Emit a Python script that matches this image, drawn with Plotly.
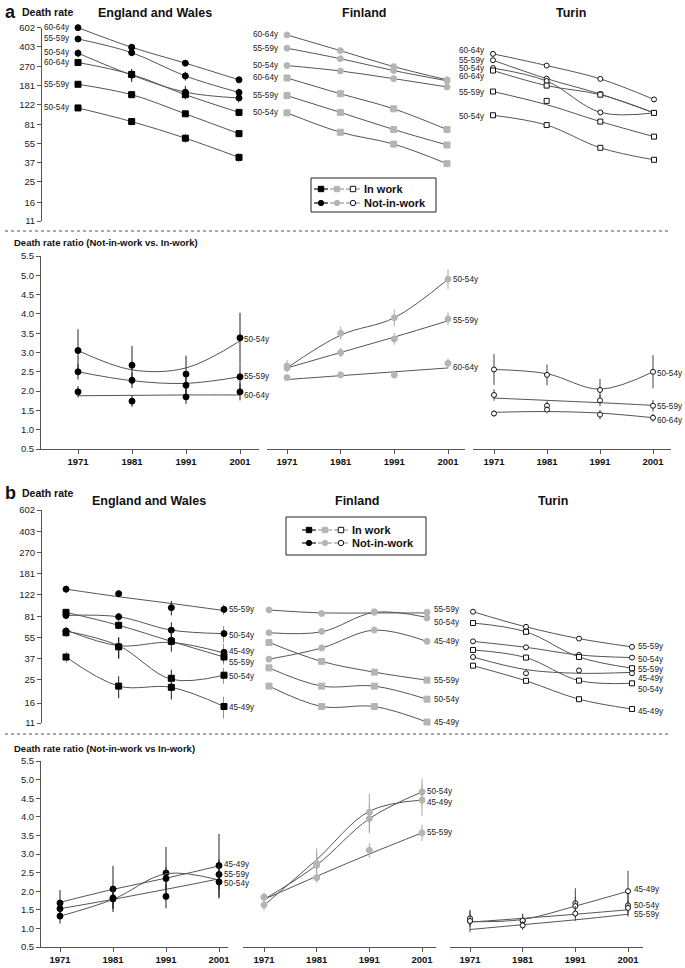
import math
import plotly.graph_objects as go

W, H = 685, 968
YEARS = [1971, 1981, 1991, 2001]
YEAR_LABELS = ["1971", "1981", "1991", "2001"]
RATE_TICKS = [11, 16, 25, 37, 55, 81, 122, 181, 270, 403, 602]
RATIO_TICKS = [0.5, 1.0, 1.5, 2.0, 2.5, 3.0, 3.5, 4.0, 4.5, 5.0, 5.5]

# ---------------- panel a: death rates, ages 50-64 ----------------
A_EW_NIW_6064 = [600, 400, 288, 204]
A_EW_NIW_5559 = [475, 358, 221, 157]
A_EW_NIW_5054 = [354, 225, 158, 140]
A_EW_IW_6064 = [292, 228, 150, 104]
A_EW_IW_5559 = [186, 150, 101, 67]
A_EW_IW_5054 = [114, 86, 61, 41]
A_EW_NIW_6064_ERR = [20, 20, 15, 12]
A_EW_NIW_5559_ERR = [30, 25, 20, 14]
A_EW_NIW_5054_ERR = [30, 30, 22, 14]
A_EW_IW_6064_ERR = [10, 25, 10, 8]
A_EW_IW_5559_ERR = [6, 6, 6, 5]
A_EW_IW_5054_ERR = [4, 4, 5, 4]

A_FI_NIW_6064 = [516, 373, 268, 204]
A_FI_NIW_5559 = [392, 316, 247, 200]
A_FI_NIW_5054 = [274, 245, 209, 176]
A_FI_IW_6064 = [212, 153, 112, 73]
A_FI_IW_5559 = [147, 104, 73, 53]
A_FI_IW_5054 = [103, 69, 54, 36]

A_TU_NIW_6064 = [349, 274, 208, 136]
A_TU_NIW_5559 = [306, 209, 152, 103]
A_TU_NIW_5054 = [260, 199, 104, 103]
A_TU_IW_6064 = [247, 181, 150, 103]
A_TU_IW_5559 = [160, 132, 86, 63]
A_TU_IW_5559_FIT = [160, 122, 86, 63]
A_TU_IW_5054 = [98, 80, 50, 39]

A_LABELS = ["60-64y", "55-59y", "50-54y", "60-64y", "55-59y", "50-54y"]

# panel a: ratios
R_A_EW_5054 = [3.05, 2.67, 2.44, 3.38]
R_A_EW_5054_FIT = [3.05, 2.55, 2.6, 3.3]
R_A_EW_5054_ERR = [0.55, 0.5, 0.48, 0.65]
R_A_EW_5559 = [2.5, 2.28, 2.15, 2.37]
R_A_EW_5559_FIT = [2.5, 2.27, 2.2, 2.37]
R_A_EW_5559_ERR = [0.2, 0.2, 0.22, 0.35]
R_A_EW_6064 = [1.98, 1.74, 1.85, 1.98]
R_A_EW_6064_FIT = [1.88, 1.89, 1.9, 1.9]
R_A_EW_6064_ERR = [0.15, 0.15, 0.18, 0.22]

R_A_FI_5054 = [2.65, 3.5, 3.9, 4.9]
R_A_FI_5054_FIT = [2.6, 3.45, 3.9, 4.9]
R_A_FI_5054_ERR = [0.15, 0.17, 0.22, 0.25]
R_A_FI_5559 = [2.6, 3.0, 3.35, 3.87]
R_A_FI_5559_FIT = [2.6, 3.0, 3.4, 3.82]
R_A_FI_5559_ERR = [0.1, 0.12, 0.15, 0.17]
R_A_FI_6064 = [2.35, 2.42, 2.42, 2.72]
R_A_FI_6064_FIT = [2.3, 2.4, 2.5, 2.6]
R_A_FI_6064_ERR = [0.06, 0.07, 0.1, 0.13]

R_A_TU_5054 = [2.56, 2.42, 2.03, 2.5]
R_A_TU_5054_FIT = [2.56, 2.45, 2.05, 2.5]
R_A_TU_5054_ERR = [0.4, 0.27, 0.28, 0.43]
R_A_TU_5559 = [1.9, 1.62, 1.76, 1.62]
R_A_TU_5559_FIT = [1.82, 1.76, 1.7, 1.63]
R_A_TU_5559_ERR = [0.15, 0.12, 0.15, 0.15]
R_A_TU_6064 = [1.42, 1.52, 1.39, 1.31]
R_A_TU_6064_FIT = [1.45, 1.47, 1.43, 1.31]
R_A_TU_6064_ERR = [0.08, 0.08, 0.12, 0.1]

R_A_LABELS = ["50-54y", "55-59y", "60-64y"]

# ---------------- panel b: death rates, ages 45-59 ----------------
B_EW_NIW_5559 = [136, 125, 96, 93]
B_EW_NIW_5559_FIT = [136, 118, 104, 91]
B_EW_NIW_5054 = [83, 81, 63, 59]
B_EW_NIW_4549 = [62, 46, 52, 41.5]
B_EW_NIW_4549_FIT = [63, 47, 50, 41]
B_EW_IW_5559 = [88, 69, 51, 38]
B_EW_IW_5054 = [60, 46, 25.5, 27]
B_EW_IW_5054_FIT = [62, 47, 25, 27]
B_EW_IW_4549 = [38, 22, 21.5, 15]
B_EW_NIW_5559_ERR = [10, 8, 13, 9]
B_EW_NIW_5054_ERR = [6, 6, 10, 9]
B_EW_NIW_4549_ERR = [5, 9, 10, 7]
B_EW_IW_5559_ERR = [6, 5, 4, 5]
B_EW_IW_5054_ERR = [5, 9, 4.5, 4]
B_EW_IW_4549_ERR = [4, 4.5, 4.4, 3]

B_FI_NIW_5559 = [92, 86, 88, 88]
B_FI_NIW_5559_FIT = [92, 87, 87, 87]
B_FI_NIW_5054 = [60, 61.5, 89, 79]
B_FI_NIW_5054_FIT = [60, 61, 88, 80]
B_FI_NIW_4549 = [36.5, 45, 63, 51]
B_FI_IW_5559 = [50, 35, 28.6, 24.6]
B_FI_IW_5054 = [31, 22, 22, 17.2]
B_FI_IW_4549 = [22, 15, 15, 11.2]

B_TU_NIW_5559 = [89, 67, 53.7, 46]
B_TU_NIW_5054 = [51, 45.6, 39.5, 37.6]
B_TU_NIW_4549 = [38, 28, 29.5, 28]
B_TU_NIW_4549_FIT = [38, 30, 28, 28.5]
B_TU_IW_5559 = [72, 61, 38, 30.8]
B_TU_IW_5054 = [43.4, 37.6, 24.4, 23.2]
B_TU_IW_4549 = [32.3, 24.3, 17.2, 14.3]

B_LABELS = ["55-59y", "50-54y", "45-49y", "55-59y", "50-54y", "45-49y"]

# panel b: ratios
R_B_EW_4549 = [1.68, 2.06, 2.49, 2.69]
R_B_EW_4549_FIT = [1.7, 2.05, 2.35, 2.68]
R_B_EW_4549_ERR = [0.35, 0.62, 0.7, 0.85]
R_B_EW_5559 = [1.53, 1.79, 2.34, 2.45]
R_B_EW_5559_FIT = [1.53, 1.78, 2.05, 2.33]
R_B_EW_5559_ERR = [0.2, 0.25, 0.3, 0.4]
R_B_EW_5054 = [1.33, 1.82, 1.86, 2.25]
R_B_EW_5054_FIT = [1.33, 1.78, 2.47, 2.3]
R_B_EW_5054_ERR = [0.2, 0.3, 0.32, 0.45]

R_B_FI_4549 = [1.63, 2.75, 4.12, 4.45]
R_B_FI_4549_FIT = [1.62, 2.85, 4.15, 4.45]
R_B_FI_4549_ERR = [0.15, 0.4, 0.5, 0.42]
R_B_FI_5054 = [1.84, 2.7, 3.95, 4.67]
R_B_FI_5054_FIT = [1.78, 2.7, 3.95, 4.67]
R_B_FI_5054_ERR = [0.12, 0.35, 0.4, 0.35]
R_B_FI_5559 = [1.84, 2.36, 3.1, 3.57]
R_B_FI_5559_FIT = [1.78, 2.4, 3.0, 3.57]
R_B_FI_5559_ERR = [0.1, 0.13, 0.2, 0.22]

R_B_TU_4549 = [1.2, 1.2, 1.68, 2.0]
R_B_TU_4549_FIT = [1.18, 1.24, 1.6, 2.0]
R_B_TU_4549_ERR = [0.3, 0.2, 0.4, 0.55]
R_B_TU_5054 = [1.27, 1.21, 1.6, 1.62]
R_B_TU_5054_FIT = [1.17, 1.27, 1.38, 1.5]
R_B_TU_5054_ERR = [0.2, 0.15, 0.25, 0.3]
R_B_TU_5559 = [1.2, 1.08, 1.4, 1.55]
R_B_TU_5559_FIT = [0.97, 1.1, 1.23, 1.38]
R_B_TU_5559_ERR = [0.15, 0.12, 0.2, 0.2]

R_B_LABELS = ["45-49y", "55-59y", "50-54y"]
R_B_LABELS_FI = ["50-54y", "45-49y", "55-59y"]
R_B_LABELS_TU = ["45-49y", "50-54y", "55-59y"]

# ---------------- styling ----------------
FONT = "Liberation Sans, Arial, Helvetica, sans-serif"
LINE = "#555555"
AXC = "#555555"
BLACK = "#000000"
GRAY = "#b5b5b5"
WHITE = "#ffffff"
STYLE = {
    "EW": dict(fill=BLACK, edge=BLACK, bar="#222222"),
    "FI": dict(fill=GRAY, edge=GRAY, bar="#a8a8a8"),
    "TU": dict(fill=WHITE, edge="#111111", bar="#444444"),
}


def fx(x):
    return x / W


def fy(y):
    return 1 - y / H


fig = go.Figure()
layout = {}
annotations = []
shapes = []


def axname(n):
    return ("x", "y") if n == 1 else (f"x{n}", f"y{n}")


def setup_panel(n, L, R, p1, p2, top, bottom, kind, show_y, show_x, ypos=None):
    s = (p2 - p1) / 30.0
    xr = [1971 - (p1 - L) / s, 2001 + (R - p2) / s]
    xk = "xaxis" if n == 1 else f"xaxis{n}"
    yk = "yaxis" if n == 1 else f"yaxis{n}"
    xa, ya = axname(n)
    xd = dict(domain=[fx(L), fx(R)], range=xr, anchor=ya, showgrid=False,
              zeroline=False, fixedrange=True, automargin=False)
    if show_x:
        xd.update(showline=True, linecolor=AXC, linewidth=1, ticks="outside",
                  ticklen=4, tickcolor=AXC, tickvals=YEARS,
                  ticktext=[f"<b>{t}</b>" for t in YEAR_LABELS],
                  tickfont=dict(size=9.5, color="#111", family=FONT))
    else:
        xd.update(visible=False)
    yd = dict(domain=[fy(bottom), fy(top)], showgrid=False, zeroline=False,
              fixedrange=True, automargin=False)
    if kind == "rate":
        yd.update(type="log", range=[math.log10(11), math.log10(602)])
        tv, tt = RATE_TICKS, [str(v) for v in RATE_TICKS]
    else:
        yd.update(range=[0.5, 5.5])
        tv, tt = RATIO_TICKS, [f"{v:.1f}" for v in RATIO_TICKS]
    if show_y:
        yd.update(anchor="free", position=fx(ypos), showline=True, linecolor=AXC,
                  linewidth=1, ticks="outside", ticklen=4, tickcolor=AXC,
                  tickvals=tv, ticktext=tt,
                  tickfont=dict(size=9.5, color="#222", family=FONT))
    else:
        yd.update(visible=False, anchor=xa)
    layout[xk] = xd
    layout[yk] = yd


def add_series(n, country, vals, fit=None, err=None, symbol="circle", size=6):
    xa, ya = axname(n)
    st = STYLE[country]
    line_vals = fit if fit is not None else vals
    fig.add_trace(go.Scatter(x=YEARS, y=line_vals, mode="lines",
                             line=dict(color=LINE, width=1, shape="spline", smoothing=1.0),
                             xaxis=xa, yaxis=ya, cliponaxis=False, hoverinfo="skip"))
    ed = None
    if err is not None:
        ed = dict(type="data", array=err, visible=True, color=st["bar"],
                  thickness=1, width=0)
    fig.add_trace(go.Scatter(x=YEARS, y=vals, mode="markers",
                             marker=dict(symbol=symbol, size=size, color=st["fill"],
                                         line=dict(color=st["edge"], width=1)),
                             error_y=ed, xaxis=xa, yaxis=ya, cliponaxis=False))


def add_label(n, text, year, val, side, xshift, yshift=0, log=False):
    xa, ya = axname(n)
    annotations.append(dict(
        x=year, y=math.log10(val) if log else val, xref=xa, yref=ya, text=text,
        showarrow=False, xanchor="right" if side == "left" else "left",
        yanchor="middle", xshift=xshift, yshift=yshift, borderpad=0,
        font=dict(size=8.2, color="#222", family=FONT)))


def text(x, y, t, size, anchor="left", bold=True):
    annotations.append(dict(x=fx(x), y=fy(y), xref="paper", yref="paper",
                            text=f"<b>{t}</b>" if bold else t, showarrow=False,
                            xanchor=anchor, yanchor="middle",
                            font=dict(size=size, color="#111", family=FONT)))


# ---------------- panel geometry ----------------
setup_panel(1, 78, 239, 78, 239, 27.5, 221, "rate", True, False, ypos=41)
setup_panel(2, 287, 447, 287, 447, 27.5, 221, "rate", False, False)
setup_panel(3, 493, 654, 493, 654, 27.5, 221, "rate", False, False)
setup_panel(4, 40, 259, 78, 240, 256, 449, "ratio", True, True, ypos=40)
setup_panel(5, 267, 465, 287, 448, 256, 449, "ratio", False, True)
setup_panel(6, 473, 671, 494, 653, 256, 449, "ratio", False, True)
setup_panel(7, 66, 224, 66, 224, 510, 723, "rate", True, False, ypos=41)
setup_panel(8, 269, 427, 269, 427, 510, 723, "rate", False, False)
setup_panel(9, 473, 632, 473, 632, 510, 723, "rate", False, False)
setup_panel(10, 40, 228, 60, 219, 761, 947, "ratio", True, True, ypos=40)
setup_panel(11, 243, 436, 264, 422, 761, 947, "ratio", False, True)
setup_panel(12, 450, 643, 470, 628, 761, 947, "ratio", False, True)

# ---------------- panel a: death rates ----------------
ew_a = [(A_EW_NIW_6064, A_EW_NIW_6064_ERR, "circle"), (A_EW_NIW_5559, A_EW_NIW_5559_ERR, "circle"),
        (A_EW_NIW_5054, A_EW_NIW_5054_ERR, "circle"), (A_EW_IW_6064, A_EW_IW_6064_ERR, "square"),
        (A_EW_IW_5559, A_EW_IW_5559_ERR, "square"), (A_EW_IW_5054, A_EW_IW_5054_ERR, "square")]
for vals, err, sym in ew_a:
    add_series(1, "EW", vals, err=err, symbol=sym, size=6)
for (vals, _, _), lab, ys in zip(ew_a, A_LABELS, [0, 0, 1, 0, 0, 0]):
    add_label(1, lab, 1971, vals[0], "left", -7, ys, log=True)

fi_a = [(A_FI_NIW_6064, "circle"), (A_FI_NIW_5559, "circle"), (A_FI_NIW_5054, "circle"),
        (A_FI_IW_6064, "square"), (A_FI_IW_5559, "square"), (A_FI_IW_5054, "square")]
for vals, sym in fi_a:
    add_series(2, "FI", vals, symbol=sym, size=6)
for (vals, _), lab in zip(fi_a, A_LABELS):
    add_label(2, lab, 1971, vals[0], "left", -7, 0, log=True)

tu_a = [(A_TU_NIW_6064, None, "circle"), (A_TU_NIW_5559, None, "circle"),
        (A_TU_NIW_5054, None, "circle"), (A_TU_IW_6064, None, "square"),
        (A_TU_IW_5559, A_TU_IW_5559_FIT, "square"), (A_TU_IW_5054, None, "square")]
for vals, fit, sym in tu_a:
    add_series(3, "TU", vals, fit=fit, symbol=sym, size=5)
for (vals, _, _), lab, ys in zip(tu_a, A_LABELS, [3, 0, 0, -6, -1, -1]):
    add_label(3, lab, 1971, vals[0], "left", -7, ys, log=True)

# ---------------- panel a: ratios ----------------
ra = {
    4: ("EW", [(R_A_EW_5054, R_A_EW_5054_FIT, R_A_EW_5054_ERR),
               (R_A_EW_5559, R_A_EW_5559_FIT, R_A_EW_5559_ERR),
               (R_A_EW_6064, R_A_EW_6064_FIT, R_A_EW_6064_ERR)], 3, [-2, 0, -4]),
    5: ("FI", [(R_A_FI_5054, R_A_FI_5054_FIT, R_A_FI_5054_ERR),
               (R_A_FI_5559, R_A_FI_5559_FIT, R_A_FI_5559_ERR),
               (R_A_FI_6064, R_A_FI_6064_FIT, R_A_FI_6064_ERR)], 4, [0, -2, -4]),
    6: ("TU", [(R_A_TU_5054, R_A_TU_5054_FIT, R_A_TU_5054_ERR),
               (R_A_TU_5559, R_A_TU_5559_FIT, R_A_TU_5559_ERR),
               (R_A_TU_6064, R_A_TU_6064_FIT, R_A_TU_6064_ERR)], 3, [-2, -1, -3]),
}
for n, (c, lst, xs, yss) in ra.items():
    for vals, fit, err in lst:
        add_series(n, c, vals, fit=fit, err=err, symbol="circle", size=6 if c != "TU" else 5)
    for (vals, _, _), lab, ys in zip(lst, R_A_LABELS, yss):
        add_label(n, lab, 2001, vals[3], "right", xs, ys)

# ---------------- panel b: death rates ----------------
ew_b = [(B_EW_NIW_5559, B_EW_NIW_5559_FIT, B_EW_NIW_5559_ERR, "circle"),
        (B_EW_NIW_5054, None, B_EW_NIW_5054_ERR, "circle"),
        (B_EW_NIW_4549, B_EW_NIW_4549_FIT, B_EW_NIW_4549_ERR, "circle"),
        (B_EW_IW_5559, None, B_EW_IW_5559_ERR, "square"),
        (B_EW_IW_5054, B_EW_IW_5054_FIT, B_EW_IW_5054_ERR, "square"),
        (B_EW_IW_4549, None, B_EW_IW_4549_ERR, "square")]
for vals, fit, err, sym in ew_b:
    add_series(7, "EW", vals, fit=fit, err=err, symbol=sym, size=6)
for (vals, _, _, _), lab, ys in zip(ew_b, B_LABELS, [0, -2, 1, -5, -1, -1]):
    add_label(7, lab, 2001, vals[3], "right", 4, ys, log=True)

fi_b = [(B_FI_NIW_5559, B_FI_NIW_5559_FIT, "circle"), (B_FI_NIW_5054, B_FI_NIW_5054_FIT, "circle"),
        (B_FI_NIW_4549, None, "circle"), (B_FI_IW_5559, None, "square"),
        (B_FI_IW_5054, None, "square"), (B_FI_IW_4549, None, "square")]
for vals, fit, sym in fi_b:
    add_series(8, "FI", vals, fit=fit, symbol=sym, size=6)
for (vals, _, _), lab, ys in zip(fi_b, B_LABELS, [3, -4, 0, 0, 0, 0]):
    add_label(8, lab, 2001, vals[3], "right", 6, ys, log=True)

tu_b = [(B_TU_NIW_5559, None, "circle"), (B_TU_NIW_5054, None, "circle"),
        (B_TU_NIW_4549, B_TU_NIW_4549_FIT, "circle"), (B_TU_IW_5559, None, "square"),
        (B_TU_IW_5054, None, "square"), (B_TU_IW_4549, None, "square")]
for vals, fit, sym in tu_b:
    add_series(9, "TU", vals, fit=fit, symbol=sym, size=5)
for (vals, _, _), lab, ys in zip(tu_b, B_LABELS, [0, -2, -5, -1, -6, -2]):
    add_label(9, lab, 2001, vals[3], "right", 5, ys, log=True)

# ---------------- panel b: ratios ----------------
rb = {
    10: ("EW", [(R_B_EW_4549, R_B_EW_4549_FIT, R_B_EW_4549_ERR),
                (R_B_EW_5559, R_B_EW_5559_FIT, R_B_EW_5559_ERR),
                (R_B_EW_5054, R_B_EW_5054_FIT, R_B_EW_5054_ERR)], R_B_LABELS, 4, [1, 0, -2]),
    11: ("FI", [(R_B_FI_5054, R_B_FI_5054_FIT, R_B_FI_5054_ERR),
                (R_B_FI_4549, R_B_FI_4549_FIT, R_B_FI_4549_ERR),
                (R_B_FI_5559, R_B_FI_5559_FIT, R_B_FI_5559_ERR)], R_B_LABELS_FI, 4, [0, -2, 0]),
    12: ("TU", [(R_B_TU_4549, R_B_TU_4549_FIT, R_B_TU_4549_ERR),
                (R_B_TU_5054, R_B_TU_5054_FIT, R_B_TU_5054_ERR),
                (R_B_TU_5559, R_B_TU_5559_FIT, R_B_TU_5559_ERR)], R_B_LABELS_TU, 5, [2, 0, -7]),
}
for n, (c, lst, labs, xs, yss) in rb.items():
    for vals, fit, err in lst:
        add_series(n, c, vals, fit=fit, err=err, symbol="circle", size=6 if c != "TU" else 5)
    for (vals, _, _), lab, ys in zip(lst, labs, yss):
        add_label(n, lab, 2001, vals[3], "right", xs, ys)

# ---------------- headings ----------------
text(3, 12, "a", 18)
text(20, 12, "Death rate", 10.5)
text(155, 13, "England and Wales", 12.5, "center")
text(364, 13, "Finland", 12.5, "center")
text(571, 13, "Turin", 12.5, "center")
text(12, 243, "Death rate ratio (Not-in-work vs. In-work)", 9.5)
text(3, 493, "b", 18)
text(20, 493, "Death rate", 10.5)
text(149, 501, "England and Wales", 12.5, "center")
text(357, 501, "Finland", 12.5, "center")
text(553, 501, "Turin", 12.5, "center")
text(12, 748, "Death rate ratio (Not-in-work vs In-work)", 9.5)

# separators
for yy in (231, 734):
    shapes.append(dict(type="line", xref="paper", yref="paper", x0=fx(5), x1=fx(670),
                       y0=fy(yy), y1=fy(yy), line=dict(color="#8a8a8a", width=1.3, dash="dot")))


# ---------------- legends (drawn as shapes) ----------------
def legend_box(x0, y0, x1, y1, mx, row1, row2, tx):
    shapes.append(dict(type="rect", xref="paper", yref="paper", x0=fx(x0), x1=fx(x1),
                       y0=fy(y1), y1=fy(y0), line=dict(color="#222", width=1),
                       fillcolor="white"))
    cols = [(BLACK, BLACK), (GRAY, GRAY), (WHITE, "#111")]
    segs = ["#111", "#9a9a9a", "#9a9a9a"]
    for ry, kind, label in ((row1, "rect", "In work"), (row2, "circle", "Not-in-work")):
        for i, cx in enumerate(mx):
            shapes.append(dict(type="line", xref="paper", yref="paper",
                               x0=fx(cx - 7), x1=fx(cx + 7), y0=fy(ry), y1=fy(ry),
                               line=dict(color=segs[i], width=1.2)))
        for (fc, ec), cx in zip(cols, mx):
            r = 2.7
            shapes.append(dict(type=kind, xref="paper", yref="paper",
                               x0=fx(cx - r), x1=fx(cx + r), y0=fy(ry + r), y1=fy(ry - r),
                               fillcolor=fc, line=dict(color=ec, width=1)))
        text(tx, ry, label, 11)


legend_box(311, 178, 436, 212, [321, 337, 353], 189, 203, 362)
legend_box(286, 517, 426, 555, [309, 325, 341], 530, 543, 350)

layout.update(
    width=W, height=H, autosize=False,
    margin=dict(l=0, r=0, t=0, b=0, autoexpand=False),
    paper_bgcolor="white", plot_bgcolor="white",
    showlegend=False, hovermode=False,
    font=dict(family=FONT, color="#111"),
    annotations=annotations, shapes=shapes,
)
fig.update_layout(**layout)
fig.write_html("out.html",
               config={"displayModeBar": False},
               post_script="document.body.style.margin='0';document.body.style.padding='0';")
